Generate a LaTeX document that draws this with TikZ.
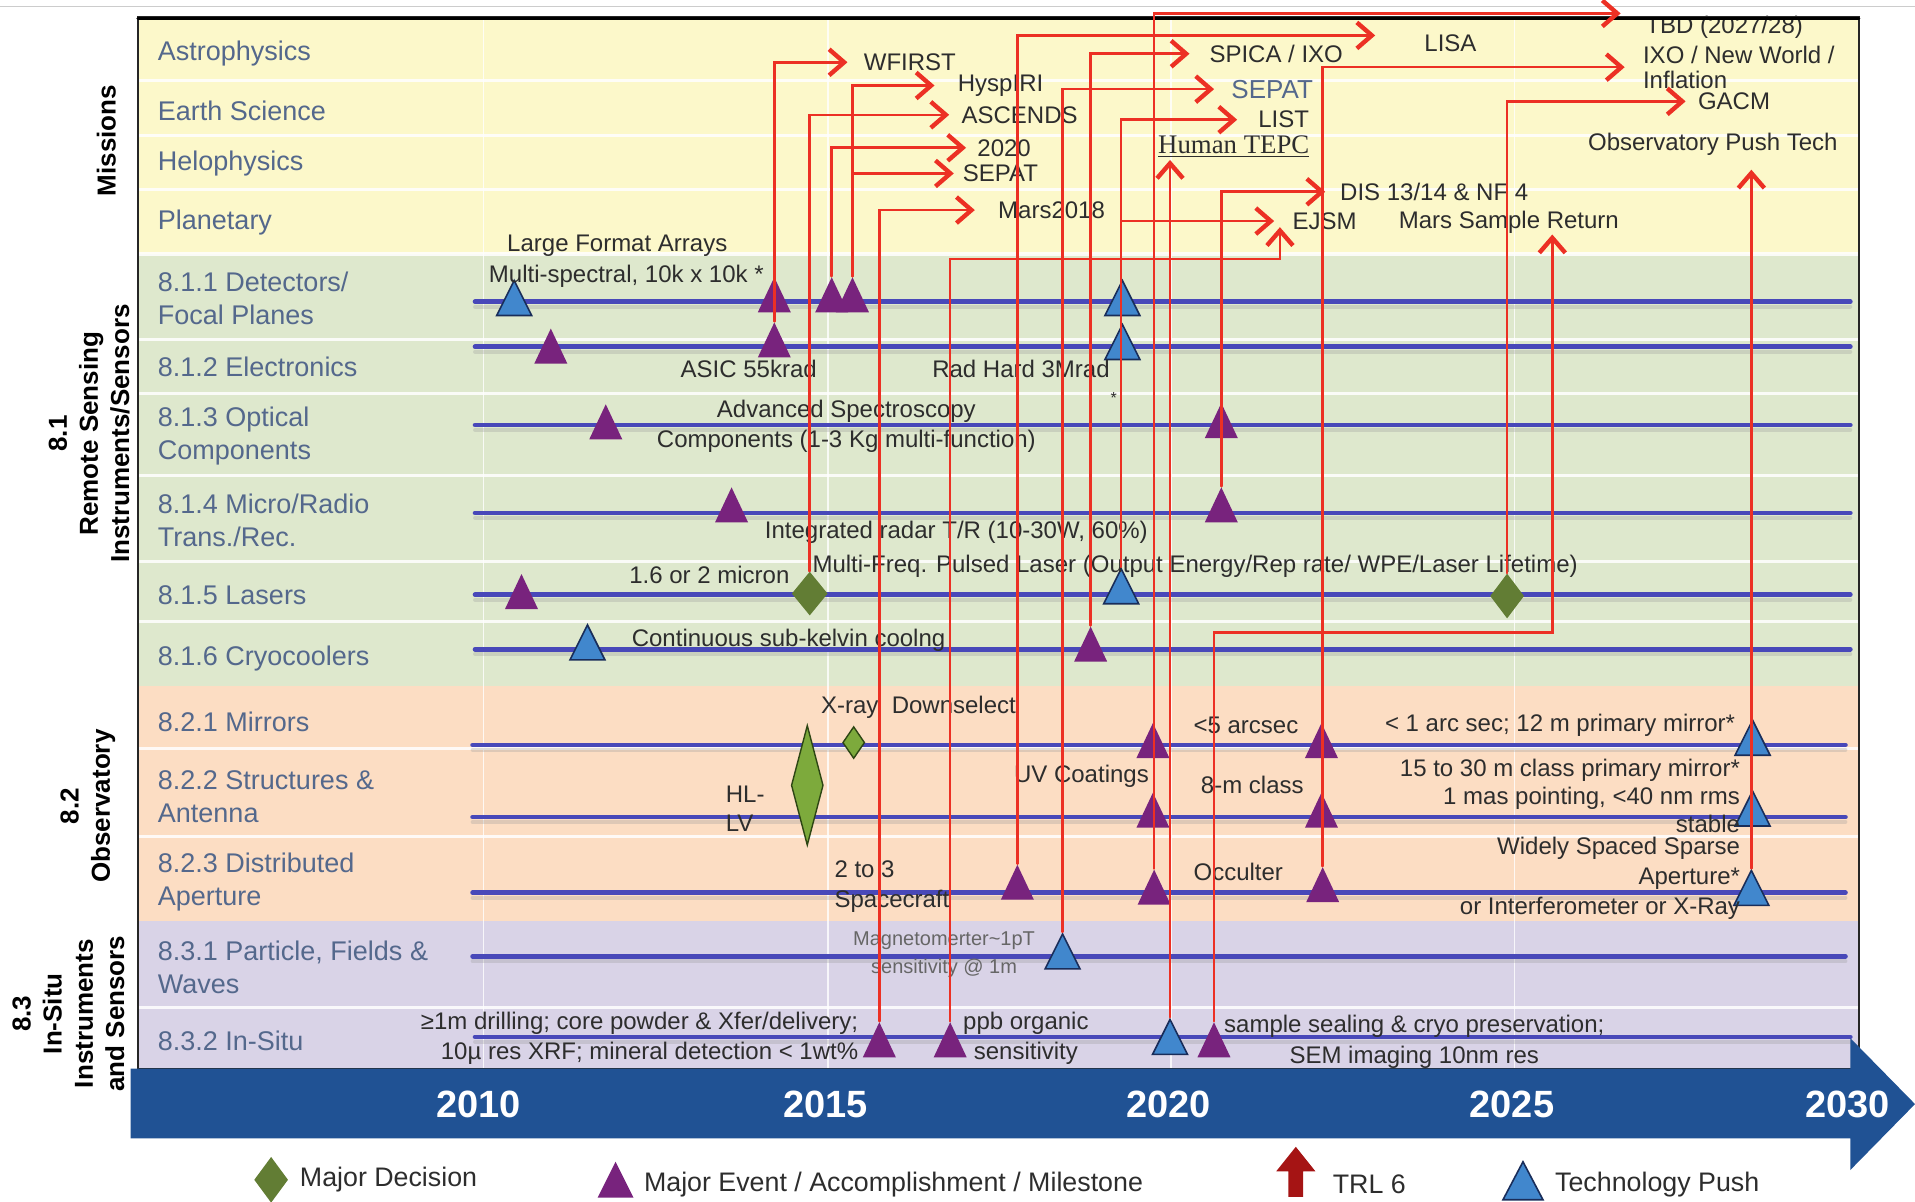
\documentclass[tikz,border=0pt]{standalone}
\usepackage{fontspec}
\setmainfont{Liberation Sans}
\newfontfamily\tepcfont{Liberation Serif}
\usetikzlibrary{arrows.meta, shapes.geometric, positioning}

\definecolor{msnbg}{RGB}{252,248,202}
\definecolor{rsbg}{RGB}{222,232,205}
\definecolor{obsbg}{RGB}{252,221,195}
\definecolor{situbg}{RGB}{217,211,231}
\definecolor{rowslate}{RGB}{84,104,140}
\definecolor{notegray}{RGB}{45,45,45}
\definecolor{evtpurple}{RGB}{120,35,125}
\definecolor{techblue}{RGB}{65,135,205}
\definecolor{technavy}{RGB}{25,45,90}
\definecolor{decolive}{RGB}{98,125,52}
\definecolor{decgreen}{RGB}{125,170,60}
\definecolor{decdark}{RGB}{45,70,20}
\definecolor{linkred}{RGB}{236,48,36}
\definecolor{trackblue}{RGB}{72,72,185}
\definecolor{barblue}{RGB}{32,82,148}
\definecolor{trlred}{RGB}{165,20,20}

\begin{document}
\begin{tikzpicture}[
  x=0.6107pt, y=-0.6107pt,
  line cap=round,
  sep/.style={white, line width=1.6pt, opacity=.85},
  track/.style={draw=trackblue, line width=2.4pt},
  trackshade/.style={draw=black!40, line width=2pt, opacity=.3},
  evt/.style={isosceles triangle, isosceles triangle stretches, shape border rotate=90,
    fill=evtpurple, inner sep=0pt, minimum width=16.5pt, minimum height=17.5pt, anchor=lower side},
  tech/.style={isosceles triangle, isosceles triangle stretches, shape border rotate=90,
    fill=techblue, draw=technavy, line width=0.8pt, inner sep=0pt,
    minimum width=17.5pt, minimum height=17.5pt, anchor=lower side},
  dec/.style={diamond, fill=decolive, inner sep=0pt},
  decbright/.style={diamond, fill=decgreen, draw=decdark, line width=0.7pt, inner sep=0pt},
  rowlbl/.style={anchor=west, align=left, inner sep=0pt, text=rowslate,
    font=\fontsize{13.5}{16.5}\selectfont},
  note/.style={anchor=west, align=left, inner sep=0pt, text=notegray,
    font=\fontsize{12}{15}\selectfont},
  noter/.style={note, anchor=east, align=right},
  mission/.style={note},
  sec/.style={rotate=90, align=center, font=\bfseries\fontsize{13}{15.6}\selectfont},
  year/.style={text=white, font=\bfseries\fontsize{19}{22}\selectfont},
  legend/.style={anchor=west, inner sep=0pt, text=notegray, font=\fontsize{13.4}{16}\selectfont},
  link/.style={draw=linkred, line width=1.3pt,
    -{Straight Barb[length=7.5pt, width=13pt, line width=2.2pt]}},
]

\useasboundingbox (0,0) rectangle (1568,984);
\draw[black!20, line width=0.6pt] (0,5) -- (1568,5);

% bands
\fill[msnbg] (113,14) rectangle (1522,208);
\fill[rsbg] (113,208) rectangle (1522,562);
\fill[obsbg] (113,562) rectangle (1522,754);
\fill[situbg] (113,754) rectangle (1522,875);
\foreach \sy in {66,111,155,208,278,322,389,460,509,613,685,825}
  \draw[sep] (113,\sy) -- (1522,\sy);
\foreach \yx in {396,678,959,1240}
  \draw[white, line width=0.8pt, opacity=.8] (\yx,14) -- (\yx,875);

% tracks
\foreach \ty in {247,284,348,420,487,531.5,849} {
  \draw[trackshade] (389,\ty+4) -- (1515,\ty+4);
  \draw[track] (389,\ty) -- (1515,\ty);
}
\foreach \ty in {610,669,731,783} {
  \draw[trackshade] (387,\ty+4) -- (1511,\ty+4);
  \draw[track] (387,\ty) -- (1511,\ty);
}

% row labels
\node[rowlbl] (rAstro) at (129,44) {Astrophysics};
\node[rowlbl] (rEarth) at (129,91) {Earth Science};
\node[rowlbl] (rHelio) at (129,134) {Helophysics};
\node[rowlbl] (rPlan) at (129,182) {Planetary};
\node[rowlbl] (rDet) at (129,244) {8.1.1 Detectors/\\Focal Planes};
\node[rowlbl] (rElec) at (129,300) {8.1.2 Electronics};
\node[rowlbl] (rOpt) at (129,357) {8.1.3 Optical\\Components};
\node[rowlbl] (rRadio) at (129,426) {8.1.4 Micro/Radio\\Trans./Rec.};
\node[rowlbl] (rLas) at (129,487) {8.1.5 Lasers};
\node[rowlbl] (rCryo) at (129,539) {8.1.6 Cryocoolers};
\node[rowlbl] (rMir) at (129,591) {8.2.1 Mirrors};
\node[rowlbl] (rStr) at (129,652) {8.2.2 Structures \&\\Antenna};
\node[rowlbl] (rApt) at (129,722) {8.2.3 Distributed\\Aperture};
\node[rowlbl] (rPfw) at (129,792) {8.3.1 Particle, Fields \&\\Waves};
\node[rowlbl] (rSitu) at (129,852) {8.3.2 In-Situ};

% section labels
\node[sec] (secM) at (87,115) {Missions};
\node[sec] (sec81) at (73,355) {8.1\\Remote Sensing\\Instruments/Sensors};
\node[sec] (sec82) at (72,660) {8.2\\Observatory};
\node[sec] (sec83) at (56,830) {8.3\\In-Situ\\Instruments\\and Sensors};

% markers
\node[tech] (detA) at (421,259) {};
\node[evt] (detB) at (634,256) {};
\node[evt] (detC) at (681,256) {};
\node[evt] (detD) at (698,256) {};
\node[tech] (detE) at (919,259) {};
\node[evt] (eleA) at (451,298) {};
\node[evt] (eleB) at (634,293) {};
\node[tech] (eleC) at (919,295) {};
\node[evt] (optA) at (496,360) {};
\node[evt] (optB) at (1000,359) {};
\node[evt] (radA) at (599,428) {};
\node[evt] (radB) at (1000,428) {};
\node[evt] (lasA) at (427,499) {};
\node[dec, minimum width=18pt, minimum height=22pt] (lasB) at (663,486) {};
\node[tech] (lasC) at (918,495) {};
\node[dec, minimum width=17pt, minimum height=22.5pt] (lasD) at (1234,488) {};
\node[tech] (cryA) at (481,541) {};
\node[evt] (cryB) at (893,542) {};
\node[decbright, minimum width=11pt, minimum height=16pt] (mirA) at (699,608) {};
\node[evt] (mirB) at (944,621) {};
\node[evt] (mirC) at (1082,621) {};
\node[tech] (mirD) at (1435,619) {};
\node[decbright, minimum width=16pt, minimum height=60pt] (hllv) at (661,643) {};
\node[evt] (strA) at (944,678) {};
\node[evt] (strB) at (1082,678) {};
\node[tech] (strC) at (1435,677) {};
\node[evt] (aptA) at (833,737) {};
\node[evt] (aptB) at (945,741) {};
\node[evt] (aptC) at (1083,739) {};
\node[tech] (aptD) at (1434,742) {};
\node[tech] (pfwA) at (870,794) {};
\node[evt] (insA) at (720,866) {};
\node[evt] (insB) at (778,866) {};
\node[tech] (insC) at (958,864) {};
\node[evt] (insD) at (994,866) {};

% notes on the tracks
\node[note] (lfa) at (415,201) {Large Format Arrays};
\node[note] (mspec) at (400,226) {Multi-spectral, 10k x 10k *};
\node[note] (asic) at (557,302) {ASIC 55krad};
\node[note] (radhard) at (763,302) {Rad Hard 3Mrad};
\node[note, font=\fontsize{8}{9}\selectfont] (radstar) at (909,326) {*};
\node[note, anchor=center, align=center, font=\fontsize{12}{14.7}\selectfont] (advspec) at (693,349)
  {Advanced Spectroscopy\\Components (1-3 Kg multi-function)};
\node[note] (radar) at (626,436) {Integrated radar T/R (10-30W, 60\%)};
\node[note] (micron) at (515,471) {1.6 or 2 micron};
\node[note] (pulsed) at (665,464) {Multi-Freq. Pulsed Laser (Output Energy/Rep rate/ WPE/Laser Lifetime)};
\node[note] (cooling) at (517,524) {Continuous sub-kelvin coolng};
\node[note] (xray) at (672,579) {X-ray\ \ Downselect};
\node[note] (arcsecA) at (977,594) {<5 arcsec};
\node[noter] (arcsecB) at (1421,594) {< 1 arc sec; 12 m primary mirror*};
\node[note, font=\fontsize{12}{14.7}\selectfont] (hllvtxt) at (594,662) {HL-\\LV};
\node[note] (uvcoat) at (830,636) {UV Coatings};
\node[note] (mclass) at (983,643) {8-m class};
\node[noter, font=\fontsize{12}{14}\selectfont] (bigmirror) at (1425,652)
  {15 to 30 m class primary mirror*\\1 mas pointing, <40 nm rms\\stable};
\node[note, font=\fontsize{12}{15.3}\selectfont] (twothree) at (683,726) {2 to 3\\Spacecraft};
\node[note] (occulter) at (977,714) {Occulter};
\node[noter, font=\fontsize{12}{15}\selectfont] (sparse) at (1425,719)
  {Widely Spaced Sparse\\Aperture*\\or Interferometer or X-Ray};
\node[note, anchor=center, align=center, text=black!60, font=\fontsize{10}{14}\selectfont] (magneto) at (773,782)
  {Magnetomerter\textasciitilde 1pT\\sensitivity @ 1m};
\node[noter, font=\fontsize{12}{15.3}\selectfont] (drill) at (703,850)
  {≥1m drilling; core powder \& Xfer/delivery;\\10µ res XRF; mineral detection < 1wt\%};
\node[note, anchor=center, align=center, font=\fontsize{12}{15.3}\selectfont] (ppb) at (840,850)
  {ppb organic\\sensitivity};
\node[note, anchor=center, align=center, font=\fontsize{12}{15.3}\selectfont] (sealing) at (1158,853)
  {sample sealing \& cryo preservation;\\SEM imaging 10nm res};

% missions
\node[mission] (wfirst) at (707,51) {WFIRST};
\node[mission] (hyspiri) at (784,70) {HyspIRI};
\node[mission] (ascends) at (787,94) {ASCENDS};
\node[mission] (m2020) at (800,121) {2020};
\node[mission] (sepatA) at (788,142) {SEPAT};
\node[mission] (mars18) at (817,172) {Mars2018};
\node[mission] (spica) at (990,44) {SPICA / IXO};
\node[mission, text=rowslate, font=\fontsize{13}{15}\selectfont] (sepatB) at (1008,73) {SEPAT};
\node[mission] (list) at (1030,98) {LIST};
\node[mission, font=\tepcfont\fontsize{13.4}{15}\selectfont] (tepc) at (948,120) {\underline{Human TEPC}};
\node[mission] (lisa) at (1166,35) {LISA};
\node[mission] (tbd) at (1347,22) {TBD (2027/28)};
\node[mission, font=\fontsize{12}{12.4}\selectfont] (ixo) at (1345,55) {IXO / New World /\\Inflation};
\node[mission] (gacm) at (1390,83) {GACM};
\node[mission] (obspush) at (1300,118) {Observatory Push Tech};
\node[mission] (dis) at (1097,157) {DIS 13/14 \& NF 4};
\node[mission] (ejsm) at (1058,181) {EJSM};
\node[mission] (msr) at (1145,182) {Mars Sample Return};

% frame
\draw[black!85, line width=0.9pt] (113,14) rectangle (1522,875);
\draw[black, line width=1.6pt] (113,15) -- (1522,15);

% links to missions
\coordinate (lisatip) at (1126,29);
\coordinate (tbdtip) at (1327,11);
\coordinate (ejsmknee) at (1048,212);
\coordinate (ejsmtip) at (1048,186);
\coordinate (msrknee) at (1271,518);
\coordinate (msrtip) at (1271,192);

\draw[link, shorten >=8pt] (eleB.apex) |- (wfirst.west);
\draw[link, shorten >=6pt] (lasB.north) |- (ascends.west);
\draw[link, shorten >=5.5pt] (detC.apex) |- (m2020.west);
\draw[link, shorten >=11.5pt] (detD.apex) |- (hyspiri.west);
\draw[link, shorten >=4.3pt] (detD.apex) |- (sepatA.west);
\draw[link, shorten >=11.5pt] (insA.apex) |- (mars18.west);
\draw[link] (insB.apex) |- (ejsmknee) -- (ejsmtip);
\draw[link] (aptA.apex) |- (lisatip);
\draw[link, shorten >=8.5pt] (pfwA.apex) |- (sepatB.west);
\draw[link, shorten >=9.8pt] (cryB.apex) |- (spica.west);
\draw[link, shorten >=10.4pt] (lasC.apex) |- (list.west);
\draw[link, shorten >=9pt] (lasC.apex) |- (ejsm.west);
\draw[link] (aptB.apex) |- (tbdtip);
\draw[link, shorten >=1pt] (insC.apex) -- (insC.apex |- tepc.south);
\draw[link, shorten >=7.3pt] (radB.apex) |- (dis.west);
\draw[link] (insD.apex) |- (msrknee) -- (msrtip);
\draw[link, shorten >=9pt] (aptC.apex) |- (ixo.west);
\draw[link, shorten >=6pt] (lasD.north) |- (gacm.west);
\draw[link, shorten >=7pt] (aptD.apex) -- (aptD.apex |- obspush.south);

% time axis
\fill[barblue] (107,875) -- (1515,875) -- (1515,850) -- (1568,904)
  -- (1515,958) -- (1515,932) -- (107,932) -- cycle;
\foreach \yr/\yx in {2010/392, 2015/676, 2020/957, 2025/1238, 2030/1513}
  \node[year] (y\yr) at (\yx,904) {\yr};

% legend
\node[dec, minimum width=17pt, minimum height=23pt] (legDec) at (222,966) {};
\node[legend, right=5.5pt of legDec] (legDecTxt) {Major Decision};
\node[evt, minimum width=18pt, minimum height=18pt] (legEvt) at (504,981) {};
\node[legend] (legEvtTxt) at (527,970) {Major Event / Accomplishment / Milestone};
\fill[trlred] (1061,939) -- (1077,959) -- (1067,959) -- (1067,980)
  -- (1055,980) -- (1055,959) -- (1045,959) -- cycle;
\node[legend] (legTrlTxt) at (1091,970) {TRL 6};
\node[tech, minimum width=20pt, minimum height=19pt] (legTech) at (1247,983) {};
\node[legend] (legTechTxt) at (1273,970) {Technology Push};

\end{tikzpicture}
\end{document}
